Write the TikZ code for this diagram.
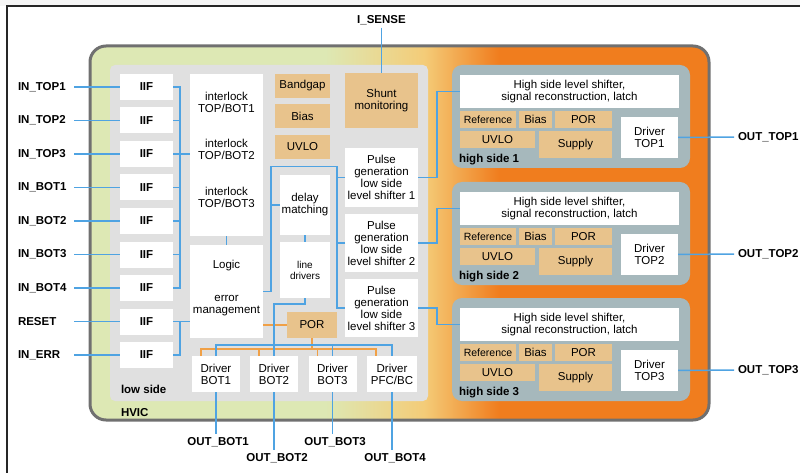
\documentclass[tikz,border=0pt]{standalone}
\usepackage{fontspec}
\setmainfont{Liberation Sans}
\usetikzlibrary{positioning,calc}

\definecolor{hvgreen}{RGB}{221,232,180}
\definecolor{hvyellow}{RGB}{244,204,120}
\definecolor{hvorange}{RGB}{240,125,30}
\definecolor{framegray}{RGB}{112,112,112}
\definecolor{lowgray}{RGB}{224,224,224}
\definecolor{hsgray}{RGB}{166,184,188}
\definecolor{tanfill}{RGB}{232,195,140}
\definecolor{wireblue}{RGB}{79,163,226}
\definecolor{porange}{RGB}{240,160,70}
\pgfdeclarehorizontalshading{hvicshade}{100bp}{color(0bp)=(hvgreen); color(44bp)=(hvgreen); color(52bp)=(hvyellow); color(58bp)=(hvorange); color(100bp)=(hvorange)}

\begin{document}
\begin{tikzpicture}[x=1pt, y=-1pt,
  every node/.style={font=\fontsize{11.5}{12}\selectfont, inner sep=1pt, outer sep=0pt},
  blk/.style={fill=white, align=center},
  tanblk/.style={fill=tanfill, align=center},
  iif/.style={blk, font=\fontsize{11.5}{12}\selectfont\bfseries, minimum width=53pt, minimum height=26pt},
  pin/.style={font=\fontsize{11.5}{12}\selectfont\bfseries, anchor=west, text width=52pt, inner xsep=4pt},
  opin/.style={font=\fontsize{11.5}{12}\selectfont\bfseries, anchor=west, inner xsep=4pt},
  bpin/.style={font=\fontsize{11.5}{12}\selectfont\bfseries, inner sep=3pt},
  tag/.style={font=\fontsize{11.5}{12}\selectfont\bfseries, anchor=west},
  drv/.style={blk, minimum width=48pt, minimum height=36pt},
  wire/.style={draw=wireblue, line width=1.5pt},
  orng/.style={draw=porange, line width=1.7pt}]
  \useasboundingbox (0,0) rectangle (800,473);
  \fill[gray!8] (0,0) rectangle (800,6);
  \draw[line width=1.2pt, black!85] (7,473) -- (7,6) -- (800,6);

  % HVIC and low side
  \path[draw=framegray, line width=3pt, rounded corners=16pt, shade, shading=hvicshade] (90,46) rectangle (709,420);
  \fill[lowgray, rounded corners=5pt] (110,65) rectangle (428,401);
  \node[tag] (hvictag) at (120,413) {HVIC};
  \node[tag] (lowtag) at (120,389) {low side};

  % input interfaces
  \node[iif] (iif1) at (146.5,87) {IIF};
  \node[iif] (iif2) at (146.5,120.5) {IIF};
  \node[iif] (iif3) at (146.5,154) {IIF};
  \node[iif] (iif4) at (146.5,187.5) {IIF};
  \node[iif] (iif5) at (146.5,221) {IIF};
  \node[iif] (iif6) at (146.5,254.5) {IIF};
  \node[iif] (iif7) at (146.5,288) {IIF};
  \node[iif] (iif8) at (146.5,321.5) {IIF};
  \node[iif] (iif9) at (146.5,355) {IIF};
  \node[pin] (in1) at (14,87) {IN\_TOP1};
  \node[pin] (in2) at (14,120.5) {IN\_TOP2};
  \node[pin] (in3) at (14,154) {IN\_TOP3};
  \node[pin] (in4) at (14,187.5) {IN\_BOT1};
  \node[pin] (in5) at (14,221) {IN\_BOT2};
  \node[pin] (in6) at (14,254.5) {IN\_BOT3};
  \node[pin] (in7) at (14,288) {IN\_BOT4};
  \node[pin] (in8) at (14,321.5) {RESET};
  \node[pin] (in9) at (14,355) {IN\_ERR};
  \draw[wire] (in1) -- (iif1);
  \draw[wire] (in2) -- (iif2);
  \draw[wire] (in3) -- (iif3);
  \draw[wire] (in4) -- (iif4);
  \draw[wire] (in5) -- (iif5);
  \draw[wire] (in6) -- (iif6);
  \draw[wire] (in7) -- (iif7);
  \draw[wire] (in8) -- (iif8);
  \draw[wire] (in9) -- (iif9);

  % interlock and logic
  \node[blk, minimum width=73pt, minimum height=162pt] (ilock) at (226.5,155) {};
  \node[align=center] (il1) at (226.5,102) {interlock\\TOP/BOT1};
  \node[align=center] (il2) at (226.5,149) {interlock\\TOP/BOT2};
  \node[align=center] (il3) at (226.5,197) {interlock\\TOP/BOT3};
  \node[blk, minimum width=73pt, minimum height=93pt] (logic) at (226.5,291.5) {};
  \node (logictxt) at (226.5,266) {Logic};
  \node[align=center] (errtxt) at (226.5,306) {error\\management};
  \draw[wire] (ilock) -- (logic);
  \draw[wire] (iif1.east) -- ++(7,0) |- (iif7.east);
  \draw[wire] (iif2.east) -- ++(7,0);
  \draw[wire] (iif4.east) -- ++(7,0);
  \draw[wire] (iif5.east) -- ++(7,0);
  \draw[wire] (iif6.east) -- ++(7,0);
  \draw[wire] (iif3.east) -- (iif3.east -| ilock.west);
  \draw[wire] (iif8.east) -- (iif8.east -| logic.west);
  \draw[wire] (iif9.east) -- ++(7,0) |- (iif8.east);

  % references and shunt
  \node[tanblk, minimum width=55pt, minimum height=24pt] (bandgap) at (302.5,86) {Bandgap};
  \node[tanblk, minimum width=55pt, minimum height=24pt] (bias) at (302.5,116) {Bias};
  \node[tanblk, minimum width=55pt, minimum height=24pt] (uvlo) at (302.5,147) {UVLO};
  \node[tanblk, minimum width=73pt, minimum height=55pt] (shunt) at (381.5,100.5) {Shunt\\monitoring};
  \node[bpin] (isense) at (381.5,20) {I\_SENSE};
  \draw[wire] (isense) -- (shunt);

  % delay, line drivers, pulse generation
  \node[blk, minimum width=50pt, minimum height=60pt] (delay) at (305,205) {delay\\matching};
  \node[blk, font=\fontsize{10}{11}\selectfont, minimum width=50pt, minimum height=56pt] (ldrv) at (305,270) {line\\drivers};
  \draw[wire] (delay) -- (ldrv);
  \node[blk, minimum width=73pt, minimum height=59pt] (pg1) at (381.5,177.5) {Pulse\\generation\\low side\\level shifter 1};
  \node[blk, minimum width=73pt, minimum height=58pt] (pg2) at (381.5,243) {Pulse\\generation\\low side\\level shifter 2};
  \node[blk, minimum width=73pt, minimum height=58pt] (pg3) at (381.5,308) {Pulse\\generation\\low side\\level shifter 3};
  \draw[wire] (logic.east) -- ++(8,0) -- ++(0,-125) -| ([xshift=-8pt]pg3.west) -- (pg3.west);
  \draw[wire] (delay.west) -- ++(-9,0);
  \draw[wire] (pg1.west) -- ++(-8,0);
  \draw[wire] (pg2.west) -- ++(-8,0);

  % POR and low side drivers
  \node[tanblk, minimum width=50pt, minimum height=26pt] (por) at (312,325) {POR};
  \node[drv] (bot1) at (216,374) {Driver\\BOT1};
  \node[drv] (bot2) at (274,374) {Driver\\BOT2};
  \node[drv] (bot3) at (332.5,374) {Driver\\BOT3};
  \node[drv, minimum width=50pt] (pfc) at (392,374) {Driver\\PFC/BC};
  \draw[orng] (por.west) -- (por.west -| logic.east);
  \draw[orng] (por.south) -- ++(0,11);
  \draw[orng] ([xshift=9pt]bot1.north west) -- ++(0,-7) -| ([xshift=9pt]pfc.north west);
  \draw[orng] ([xshift=9pt]bot2.north west) -- ++(0,-7);
  \draw[orng] ([xshift=9pt]bot3.north west) -- ++(0,-7);
  \draw[wire] (ldrv.south) -- ++(0,6) -| (bot2.north);
  \draw[wire] (bot1.north) -- ++(0,-11) -| (pfc.north);
  \draw[wire] (bot3.north) -- ++(0,-11);
  \node[bpin] (ob1) at (218,442) {OUT\_BOT1};
  \node[bpin] (ob2) at (277,458) {OUT\_BOT2};
  \node[bpin] (ob3) at (335,442) {OUT\_BOT3};
  \node[bpin] (ob4) at (395,458) {OUT\_BOT4};
  \draw[wire] (bot1.south) -- (bot1.south |- ob1.north);
  \draw[wire] (bot2.south) -- (bot2.south |- ob2.north);
  \draw[wire] (bot3.south) -- (bot3.south |- ob3.north);
  \draw[wire] (pfc.south) -- (pfc.south |- ob4.north);

  % high sides
  \foreach \i/\t in {1/65,2/182,3/298} {
    \node[fill=hsgray, rounded corners=10pt, minimum width=238pt, minimum height=103pt, anchor=north west] (hs\i) at (452,\t) {};
    \node[blk, minimum width=219pt, minimum height=33pt] (hsls\i) at (569.5,\t+26.5) {High side level shifter,\\signal reconstruction, latch};
    \node[tanblk, font=\fontsize{10.5}{12}\selectfont, minimum width=56pt, minimum height=17pt] (ref\i) at (488,\t+54.5) {Reference};
    \node[tanblk, minimum width=33pt, minimum height=17pt] (bias\i) at (535.5,\t+54.5) {Bias};
    \node[tanblk, minimum width=57pt, minimum height=17pt] (por\i) at (583.5,\t+54.5) {POR};
    \node[tanblk, minimum width=75pt, minimum height=17pt] (uvlo\i) at (497.5,\t+74.5) {UVLO};
    \node[tanblk, minimum width=73pt, minimum height=27pt] (sup\i) at (575.5,\t+79.5) {Supply};
    \node[tag] (hstag\i) at (458,\t+95) {high side \i};
    \node[blk, minimum width=57pt, minimum height=41pt] (top\i) at (649.5,\t+72.5) {Driver\\TOP\i};
    \node[opin] (out\i) at (734,\t+72) {OUT\_TOP\i};
    \draw[wire] (top\i) -- (out\i);
  }
  \draw[wire] (pg1.east) -- ++(19,0) |- (hsls1.west);
  \draw[wire] (pg2.east) -- ++(19,0) |- (hsls2.west);
  \draw[wire] (pg3.east) -- ++(19,0) |- (hsls3.west);
\end{tikzpicture}
\end{document}
